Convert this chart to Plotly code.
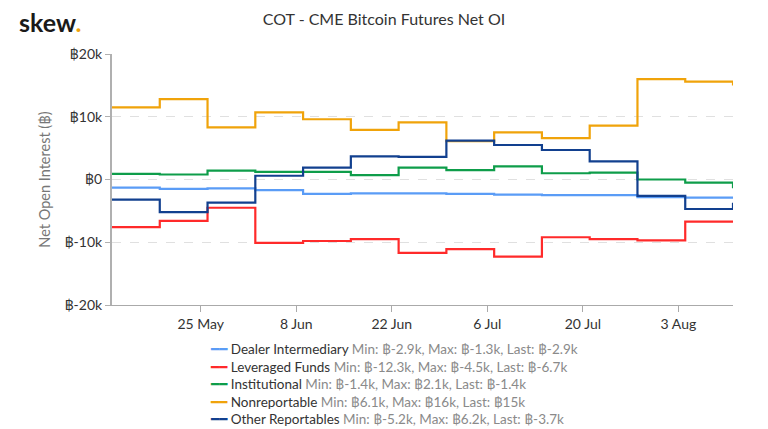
import plotly.graph_objects as go

# ---- data (values in thousands of BTC) ----
dates = ["2020-05-12", "2020-05-19", "2020-05-26", "2020-06-02", "2020-06-09",
         "2020-06-16", "2020-06-23", "2020-06-30", "2020-07-07", "2020-07-14",
         "2020-07-21", "2020-07-28", "2020-08-04", "2020-08-11"]

dealer_intermediary = [-1.3, -1.5, -1.4, -1.7, -2.3, -2.2, -2.2, -2.3, -2.4, -2.5, -2.5, -2.8, -2.9, -2.9]
leveraged_funds = [-7.6, -6.6, -4.5, -10.1, -9.8, -9.5, -11.7, -11.1, -12.3, -9.2, -9.5, -9.7, -6.7, -6.7]
institutional = [0.9, 0.8, 1.4, 1.2, 1.2, 0.7, 1.9, 1.5, 2.1, 1.0, 1.1, 0.0, -0.5, -1.4]
nonreportable = [11.5, 12.8, 8.3, 10.7, 9.6, 7.9, 9.1, 6.1, 7.5, 6.6, 8.6, 16.0, 15.6, 15.0]
other_reportables = [-3.2, -5.2, -3.7, 0.6, 1.9, 3.7, 3.6, 6.2, 5.5, 4.7, 2.9, -2.6, -4.7, -3.7]

series_names = ["Dealer Intermediary", "Leveraged Funds", "Institutional",
                "Nonreportable", "Other Reportables"]
series_values = [dealer_intermediary, leveraged_funds, institutional,
                 nonreportable, other_reportables]
series_colors = ["#5a9cf6", "#ff2a2a", "#0e9d4a", "#f0a30a", "#12408f"]

y_tick_vals = [-20, -10, 0, 10, 20]
y_tick_labels = ["฿-20k", "฿-10k", "฿0", "฿10k", "฿20k"]


def fmt(v):
    s = f"{v:.1f}"
    if s.endswith(".0"):
        s = s[:-2]
    return f"฿{s}k"


fig = go.Figure()
legend_lines = []
for name, vals, col in zip(series_names, series_values, series_colors):
    stats = f"Min: {fmt(min(vals))}, Max: {fmt(max(vals))}, Last: {fmt(vals[-1])}"
    fig.add_trace(go.Scatter(
        x=dates, y=vals, mode="lines", line_shape="hv",
        line=dict(color=col, width=2.2),
        name=name, showlegend=False,
    ))
    legend_lines.append(
        f"<span style='color:{col}'>━━</span>\u00a0{name} "
        f"<span style='color:#8a8a8a'>{stats}</span>"
    )

# the page body adds an 8px offset, so the figure is drawn 8px smaller
OFF = 8
FIG_W, FIG_H = 768 - OFF, 429 - OFF
PLOT_L, PLOT_T, PLOT_W, PLOT_H = 112 - OFF, 54 - OFF, 621, 251
PLOT_B_SCREEN = 54 + PLOT_H

fig.update_layout(
    width=FIG_W, height=FIG_H,
    margin=dict(l=PLOT_L, r=FIG_W - PLOT_L - PLOT_W, t=PLOT_T,
                b=FIG_H - PLOT_T - PLOT_H, autoexpand=False, pad=0),
    paper_bgcolor="white", plot_bgcolor="white",
    font=dict(family="Lato", size=13, color="#333333"),
    title=dict(text="COT - CME Bitcoin Futures Net OI", x=(384 - OFF) / FIG_W,
               xref="container", xanchor="center", y=1 - (19 - OFF) / FIG_H,
               yref="container", yanchor="middle",
               font=dict(size=16, color="#333333")),
    showlegend=False,
    annotations=[
        dict(
            text="<b>skew</b><b style='color:#f0a30a'>.</b>",
            xref="paper", yref="paper", x=(17 - 112) / PLOT_W,
            y=1 + (54 - 22) / PLOT_H,
            xanchor="left", yanchor="middle", showarrow=False,
            font=dict(family="Lato", size=25, color="#1a1a1a"),
        ),
        dict(
            text="<br>".join(legend_lines),
            xref="paper", yref="paper", x=(208 - 112) / PLOT_W,
            y=-(339 - PLOT_B_SCREEN) / PLOT_H,
            xanchor="left", yanchor="top", align="left", showarrow=False,
            font=dict(family="Lato, DejaVu Sans", size=13.5, color="#333333"),
        ),
    ],
)

fig.update_xaxes(
    type="date", range=["2020-05-12", "2020-08-11"],
    tick0="2020-05-25", dtick=14 * 24 * 3600 * 1000, tickformat="%-d %b",
    showgrid=False, showline=True, linecolor="#aaaaaa", linewidth=1,
    ticks="outside", ticklen=6, tickcolor="#aaaaaa",
    tickfont=dict(size=14, color="#333333"), zeroline=False, automargin=False,
)
fig.update_yaxes(
    range=[-20, 20], tickvals=y_tick_vals, ticktext=y_tick_labels,
    showgrid=True, gridcolor="#e0e0e0", griddash="dash", gridwidth=1,
    showline=True, linecolor="#b0b0b0", linewidth=2,
    ticks="outside", ticklen=5, tickcolor="#b0b0b0",
    tickfont=dict(size=14, color="#333333"), zeroline=False, automargin=False,
    title=dict(text="Net Open Interest (฿)", standoff=10,
               font=dict(size=14.5, color="#777777")),
)

fig.write_html("out.html")
